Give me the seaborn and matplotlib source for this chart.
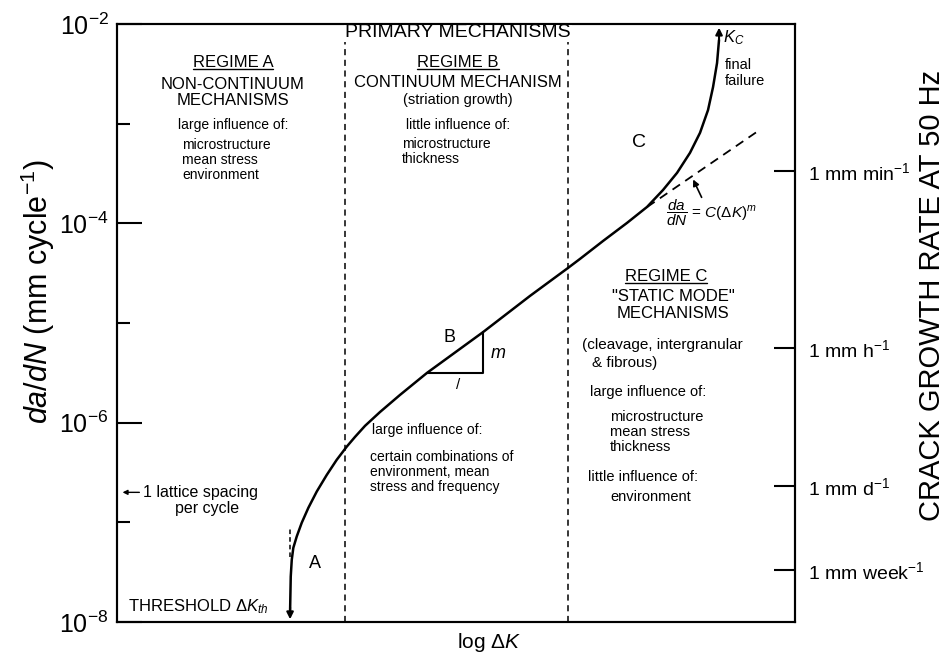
import matplotlib
matplotlib.use("Agg")
import matplotlib.pyplot as plt
import matplotlib.ticker as mticker
import pandas as pd
import seaborn as sns

# crack growth curve (x is log dK in arbitrary units 0-10)
log_dk = [2.552, 2.562, 2.577, 2.600, 2.650, 2.724, 2.822, 2.946, 3.093, 3.240, 3.388,
          3.510, 3.658, 3.879, 4.174, 4.572, 5.398, 6.091, 6.652, 6.829, 7.168, 7.522,
          7.817, 8.053, 8.260, 8.451, 8.599, 8.717, 8.791, 8.850, 8.879]
dadn = [1.26e-8, 2.86e-8, 4.21e-8, 5.55e-8, 7.2e-8, 9.9e-8, 1.40e-7, 2.04e-7, 2.99e-7,
        4.24e-7, 5.75e-7, 7.2e-7, 9.3e-7, 1.28e-6, 1.90e-6, 3.16e-6, 8.1e-6, 1.87e-5,
        3.57e-5, 4.40e-5, 6.65e-5, 1.01e-4, 1.46e-4, 2.16e-4, 3.21e-4, 5.1e-4, 8.1e-4,
        1.37e-3, 2.33e-3, 4.06e-3, 6.9e-3]

# Paris law extrapolation and slope triangle
paris_dk = [7.82, 9.44]
paris_rate = [1.46e-4, 8.3e-4]
tri_dk = [4.57, 5.40, 5.40]
tri_rate = [3.16e-6, 3.16e-6, 8.1e-6]

# regime boundaries and threshold
regime_bounds = [3.36, 6.65]
threshold_dk = 2.552
lattice_rate = 2.0e-7

left_ticks = [1e-8, 1e-6, 1e-4, 1e-2]
left_labels = ["$10^{-8}$", "$10^{-6}$", "$10^{-4}$", "$10^{-2}$"]
minor_ticks = [1e-7, 1e-5, 1e-3]

# right axis: 1 mm per unit of time at 50 Hz
seconds_per_unit = [60, 3600, 86400, 604800]
freq_hz = 50
rate_labels = ["1 mm min$^{-1}$", "1 mm h$^{-1}$", "1 mm d$^{-1}$", "1 mm week$^{-1}$"]
rate_ticks = [1.0 / (s * freq_hz) for s in seconds_per_unit]

sns.set_style("ticks")
plt.rcParams["font.family"] = ["Liberation Sans", "DejaVu Sans"]
plt.rcParams["mathtext.fontset"] = "custom"
plt.rcParams["mathtext.rm"] = "Liberation Sans"
plt.rcParams["mathtext.it"] = "Liberation Sans:italic"
plt.rcParams["mathtext.bf"] = "Liberation Sans:bold"
for key in ["text.color", "axes.labelcolor", "xtick.color", "ytick.color", "axes.edgecolor"]:
    plt.rcParams[key] = "black"

fig = plt.figure(figsize=(9.47, 6.56), dpi=100)
ax = fig.add_axes([0.1236, 0.0518, 0.7159, 0.9116])

df = pd.DataFrame({"log_dk": log_dk, "dadn": dadn})
sns.lineplot(data=df, x="log_dk", y="dadn", sort=False, estimator=None,
             color="black", lw=1.8, ax=ax)
ax.plot(paris_dk, paris_rate, color="black", lw=1.3, ls=(0, (5, 3.5)))
ax.plot(tri_dk, tri_rate, color="black", lw=1.5)

for xb in regime_bounds:
    ax.axvline(xb, ymin=0, ymax=0.973, color="black", lw=1.1, ls=(0, (4, 3)))
ax.plot([threshold_dk, threshold_dk], [4.5e-8, 8.9e-8], color="black", lw=1.1, ls=(0, (3, 2)))

# arrows: threshold, final failure, formula pointer, lattice spacing
ax.annotate("", xy=(threshold_dk, 1.0e-8), xytext=(threshold_dk, 1.5e-8),
            arrowprops=dict(arrowstyle="-|>", color="black", lw=1.5, mutation_scale=10))
ax.annotate("", xy=(8.88, 9.8e-3), xytext=(8.879, 6.5e-3),
            arrowprops=dict(arrowstyle="-|>", color="black", lw=1.5, mutation_scale=10))
ax.annotate("", xy=(8.48, 2.92e-4), xytext=(8.64, 1.72e-4),
            arrowprops=dict(arrowstyle="-|>", color="black", lw=1.2, mutation_scale=9))
ax.annotate("", xy=(0.004, lattice_rate), xytext=(0.037, lattice_rate),
            xycoords=("axes fraction", "data"), textcoords=("axes fraction", "data"),
            arrowprops=dict(arrowstyle="-|>", color="black", lw=1.0, mutation_scale=7))

ax.set_xlim(0, 10)
ax.set_yscale("log")
ax.set_ylim(1e-8, 1e-2)
ax.set_xticks([])
ax.set_xlabel("")
ax.set_ylabel("")
ax.set_yticks(left_ticks)
ax.set_yticklabels(left_labels)
ax.yaxis.set_minor_locator(mticker.FixedLocator(minor_ticks))
ax.yaxis.set_minor_formatter(mticker.NullFormatter())
ax.tick_params(axis="y", which="major", direction="in", length=18, width=1.5,
               labelsize=18, pad=6)
ax.tick_params(axis="y", which="minor", direction="in", length=9, width=1.5)
for sp in ax.spines.values():
    sp.set_linewidth(1.5)
    sp.set_visible(True)

ax2 = ax.twinx()
ax2.set_yscale("log")
ax2.set_ylim(1e-8, 1e-2)
ax2.set_yticks(rate_ticks)
ax2.set_yticklabels(rate_labels)
ax2.yaxis.set_minor_locator(mticker.NullLocator())
ax2.tick_params(axis="y", which="major", direction="in", length=15, width=1.5,
                labelsize=14, pad=9)
for sp in ax2.spines.values():
    sp.set_linewidth(1.5)

T = ax.transAxes
body = 10
caps = 12


def underline(t):
    fig.canvas.draw()
    bb = t.get_window_extent().transformed(T.inverted())
    ax.plot([bb.x0, bb.x1], [bb.y0 + 0.002] * 2, transform=T, color="black",
            lw=1.0, clip_on=False)


# regime A
t = ax.text(0.171, 0.936, "REGIME A", transform=T, ha="center", va="center", fontsize=caps)
underline(t)
ax.text(0.171, 0.886, "NON-CONTINUUM\nMECHANISMS", transform=T, ha="center", va="center",
        fontsize=caps, linespacing=1.1)
ax.text(0.171, 0.831, "large influence of:", transform=T, ha="center", va="center", fontsize=body)
ax.text(0.096, 0.773, "microstructure\nmean stress\nenvironment", transform=T,
        ha="left", va="center", fontsize=body, linespacing=1.1)
ax.text(0.039, 0.216, "1 lattice spacing", transform=T, ha="left", va="center", fontsize=11.5)
ax.text(0.133, 0.190, "per cycle", transform=T, ha="center", va="center", fontsize=11.5)
ax.text(0.016, 0.025, r"THRESHOLD $\Delta K_{th}$", transform=T, ha="left",
        va="center", fontsize=12)
ax.text(2.92, 3.9e-8, "A", ha="center", va="center", fontsize=13)

# regime B
ax.text(0.503, 0.985, "PRIMARY MECHANISMS", transform=T, ha="center", va="center",
        fontsize=14, bbox=dict(fc="white", ec="none", pad=0.5))
t = ax.text(0.503, 0.936, "REGIME B", transform=T, ha="center", va="center", fontsize=caps)
underline(t)
ax.text(0.503, 0.903, "CONTINUUM MECHANISM", transform=T, ha="center", va="center", fontsize=caps)
ax.text(0.503, 0.873, "(striation growth)", transform=T, ha="center", va="center", fontsize=10.5)
ax.text(0.503, 0.831, "little influence of:", transform=T, ha="center", va="center", fontsize=body)
ax.text(0.420, 0.787, "microstructure\nthickness", transform=T, ha="left", va="center",
        fontsize=body, linespacing=1.1)
ax.text(0.376, 0.321, "large influence of:", transform=T, ha="left", va="center", fontsize=body)
ax.text(0.373, 0.251, "certain combinations of\nenvironment, mean\nstress and frequency",
        transform=T, ha="left", va="center", fontsize=body, linespacing=1.1)
ax.text(4.91, 7.2e-6, "B", ha="center", va="center", fontsize=13)
ax.text(5.62, 5.0e-6, "$m$", ha="center", va="center", fontsize=13)
ax.text(5.03, 2.4e-6, "/", ha="center", va="center", fontsize=11)

# regime C
ax.text(7.70, 6.5e-4, "C", ha="center", va="center", fontsize=14)
ax.text(0.894, 0.978, "$K_C$", transform=T, ha="left", va="center", fontsize=12)
ax.text(0.897, 0.918, "final\nfailure", transform=T, ha="left", va="center",
        fontsize=10.5, linespacing=1.1)
ax.text(0.876, 0.684, r"$\dfrac{da}{dN}$ = $C(\Delta K)^m$", transform=T, ha="center",
        va="center", fontsize=11)
t = ax.text(0.810, 0.577, "REGIME C", transform=T, ha="center", va="center", fontsize=caps)
underline(t)
ax.text(0.820, 0.530, "\"STATIC MODE\"\nMECHANISMS", transform=T, ha="center", va="center",
        fontsize=caps, linespacing=1.1)
ax.text(0.686, 0.463, "(cleavage, intergranular", transform=T, ha="left", va="center", fontsize=11)
ax.text(0.701, 0.433, "& fibrous)", transform=T, ha="left", va="center", fontsize=11)
ax.text(0.698, 0.385, "large influence of:", transform=T, ha="left", va="center", fontsize=10.5)
ax.text(0.727, 0.318, "microstructure\nmean stress\nthickness", transform=T, ha="left",
        va="center", fontsize=10.5, linespacing=1.1)
ax.text(0.695, 0.242, "little influence of:", transform=T, ha="left", va="center", fontsize=10.5)
ax.text(0.727, 0.209, "environment", transform=T, ha="left", va="center", fontsize=10.5)

# axis titles
fig.text(0.040, 0.555, "$da/dN$ (mm cycle$^{-1}$)", rotation=90, ha="center",
         va="center", fontsize=22)
fig.text(0.984, 0.549, "CRACK GROWTH RATE AT 50 Hz", rotation=90, ha="center",
         va="center", fontsize=21)
fig.text(0.517, 0.020, r"log $\Delta K$", ha="center", va="center", fontsize=15)

fig.savefig("out.png", dpi=100, facecolor="white")
